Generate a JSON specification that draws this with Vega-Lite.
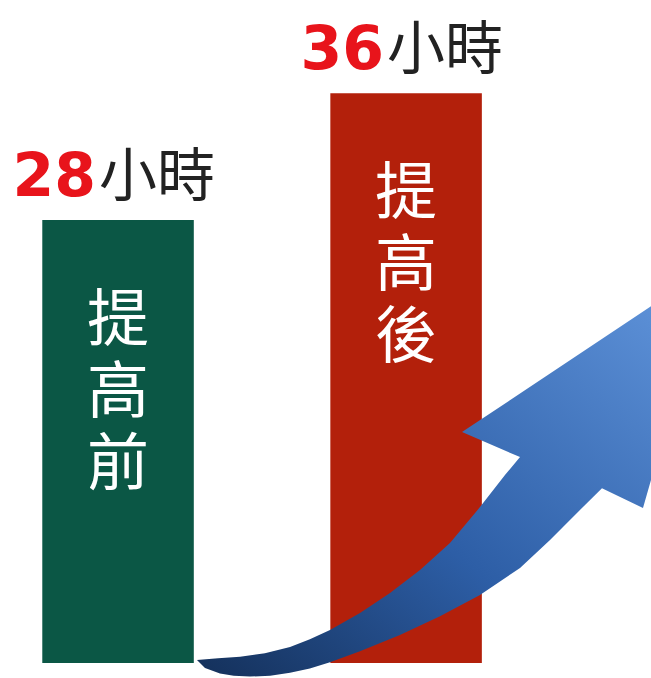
{
  "$schema": "https://vega.github.io/schema/vega-lite/v6.json",
  "width": 651,
  "height": 678,
  "padding": 0,
  "autosize": {"type": "fit", "contains": "padding"},
  "background": "white",
  "config": {"view": {"stroke": null}},
  "datasets": {
    "bars": [
      {"stage": "提高前", "hours": 28, "num": "28", "unit": "小時", "vlabel": "提\n高\n前"},
      {"stage": "提高後", "hours": 36, "num": "36", "unit": "小時", "vlabel": "提\n高\n後"}
    ],
    "arrow": [
      {"i": 0, "ax": 30.26, "ay": 0.19},
      {"i": 1, "ax": 33.5, "ay": 0.30},
      {"i": 2, "ax": 36.87, "ay": 0.40},
      {"i": 3, "ax": 40.7, "ay": 0.62},
      {"i": 4, "ax": 44.55, "ay": 1.01},
      {"i": 5, "ax": 47.6, "ay": 1.50},
      {"i": 6, "ax": 50.69, "ay": 2.08},
      {"i": 7, "ax": 55.30, "ay": 3.16},
      {"i": 8, "ax": 59.91, "ay": 4.42},
      {"i": 9, "ax": 64.52, "ay": 5.87},
      {"i": 10, "ax": 69.12, "ay": 7.58},
      {"i": 11, "ax": 73.73, "ay": 9.85},
      {"i": 12, "ax": 77.57, "ay": 11.88},
      {"i": 13, "ax": 79.88, "ay": 13.01},
      {"i": 14, "ax": 70.97, "ay": 14.59},
      {"i": 15, "ax": 100.0, "ay": 22.55},
      {"i": 16, "ax": 100.0, "ay": 11.56},
      {"i": 17, "ax": 98.77, "ay": 9.79},
      {"i": 18, "ax": 92.47, "ay": 11.05},
      {"i": 19, "ax": 89.09, "ay": 9.67},
      {"i": 20, "ax": 84.49, "ay": 7.77},
      {"i": 21, "ax": 79.88, "ay": 6.00},
      {"i": 22, "ax": 73.73, "ay": 4.30},
      {"i": 23, "ax": 67.59, "ay": 2.95},
      {"i": 24, "ax": 61.44, "ay": 1.77},
      {"i": 25, "ax": 55.30, "ay": 0.74},
      {"i": 26, "ax": 50.69, "ay": 0.05},
      {"i": 27, "ax": 47.6, "ay": -0.35},
      {"i": 28, "ax": 44.55, "ay": -0.62},
      {"i": 29, "ax": 41.5, "ay": -0.80},
      {"i": 30, "ax": 38.40, "ay": -0.86},
      {"i": 31, "ax": 35.9, "ay": -0.80},
      {"i": 32, "ax": 33.79, "ay": -0.66},
      {"i": 33, "ax": 31.49, "ay": -0.32},
      {"i": 34, "ax": 30.26, "ay": 0.19}
    ]
  },
  "layer": [
    {
      "data": {"name": "bars"},
      "encoding": {
        "x": {"field": "stage", "type": "nominal", "sort": null, "axis": null,
              "scale": {"type": "band", "paddingInner": 0.474, "paddingOuter": 0.367, "align": 0.2}},
        "y": {"field": "hours", "type": "quantitative", "axis": null,
              "scale": {"domain": [-0.95, 41.9], "nice": false, "zero": false}}
      },
      "layer": [
        {
          "mark": {"type": "bar"},
          "encoding": {
            "color": {"field": "stage", "type": "nominal", "legend": null,
                      "scale": {"domain": ["提高前", "提高後"], "range": ["#0b5745", "#b3200b"]}}
          }
        },
        {
          "mark": {"type": "text", "align": "right", "baseline": "alphabetic", "dx": -22, "dy": -24,
                   "font": "DejaVu Sans", "fontWeight": "bold", "fontSize": 60, "fill": "#e8141b"},
          "encoding": {"text": {"field": "num"}}
        },
        {
          "mark": {"type": "text", "align": "left", "baseline": "alphabetic", "dx": -19, "dy": -24,
                   "font": "Noto Sans CJK TC", "fontWeight": "normal", "fontSize": 58, "fill": "#222222"},
          "encoding": {"text": {"field": "unit"}}
        },
        {
          "mark": {"type": "text", "align": "center", "baseline": "top", "dy": 72, "lineBreak": "\n",
                   "lineHeight": 72, "font": "Noto Sans CJK TC", "fontSize": 62, "fill": "white"},
          "encoding": {"text": {"field": "vlabel"}}
        }
      ]
    },
    {
      "data": {"name": "arrow"},
      "mark": {"type": "line", "interpolate": "linear", "strokeWidth": 0, "clip": true,
               "fill": {"gradient": "linear", "x1": 0, "y1": 1, "x2": 1, "y2": 0,
                        "stops": [{"offset": 0, "color": "#14305a"}, {"offset": 0.45, "color": "#2d5ea6"}, {"offset": 1, "color": "#5b8fd6"}]}},
      "encoding": {
        "x": {"field": "ax", "type": "quantitative", "axis": null,
              "scale": {"domain": [0, 100], "nice": false, "zero": false}},
        "y": {"field": "ay", "type": "quantitative", "axis": null},
        "order": {"field": "i", "type": "quantitative"}
      }
    }
  ],
  "resolve": {"scale": {"x": "independent"}}
}
